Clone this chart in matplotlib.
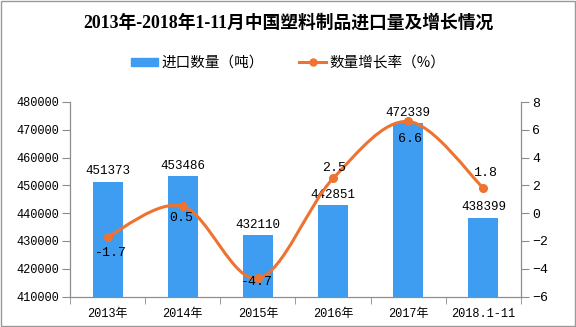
import matplotlib
matplotlib.use("Agg")
import matplotlib.pyplot as plt
from matplotlib.path import Path
from matplotlib.patches import PathPatch, Rectangle
from matplotlib.lines import Line2D
import numpy as np

# 数据
years = ["2013年", "2014年", "2015年", "2016年", "2017年", "2018.1-11"]
volume = [451373, 453486, 432110, 442851, 472339, 438399]
growth = [-1.7, 0.5, -4.7, 2.5, 6.6, 1.8]

# 增长率标签偏移 (像素, dx, dy)
growth_offsets = [(3, -16), (-2, -12), (-1, -4), (1, 10), (2, -18), (2, 15)]

BLUE = "#3E9DF0"
ORANGE = "#EE7331"
GREY = "#8C8C8C"
NUM_FONT = ["Liberation Mono", "Noto Sans CJK SC"]
CJK_FONT = ["Noto Sans CJK SC", "DejaVu Sans"]

fig = plt.figure(figsize=(5.76, 3.27), dpi=100)
ax = fig.add_axes([70 / 576, 1 - 296.5 / 327, (521 - 70) / 576, (296.5 - 102) / 327])
ax2 = ax.twinx()

x = np.arange(len(years))
ax.bar(x, volume, width=0.4, color=BLUE, zorder=2)
ax.set_ylim(410000, 480000)
ax.set_yticks(np.arange(410000, 480001, 10000))
ax.set_xlim(-0.5, len(years) - 0.5)
ax.set_xticks(x)
ax.set_xticklabels(years)
ax.set_xticks(np.arange(-0.5, len(years)), minor=True)
ax.tick_params(axis="x", which="major", length=0, pad=8)
ax.tick_params(axis="x", which="minor", length=5, color=GREY, direction="out")
ax.tick_params(axis="y", length=6, color=GREY, pad=2)

for lbl in ax.get_xticklabels() + ax.get_yticklabels():
    lbl.set_family(NUM_FONT)
    lbl.set_fontsize(8.6)

for xi, v in zip(x, volume):
    ax.annotate(str(v), (xi, v), xytext=(0, 3), textcoords="offset points",
                ha="center", va="bottom", family=NUM_FONT, fontsize=9)

# 平滑折线 (贝塞尔)
pts = np.column_stack([x, growth]).astype(float)
ext = np.vstack([pts[0], pts, pts[-1]])
verts = [tuple(pts[0])]
codes = [Path.MOVETO]
for i in range(len(pts) - 1):
    p0, p1, p2, p3 = ext[i], ext[i + 1], ext[i + 2], ext[i + 3]
    c1 = p1 + (p2 - p0) / 6
    c2 = p2 - (p3 - p1) / 6
    verts += [tuple(c1), tuple(c2), tuple(p2)]
    codes += [Path.CURVE4] * 3
ax2.add_patch(PathPatch(Path(verts, codes), facecolor="none", edgecolor=ORANGE,
                        lw=2.2, zorder=3, capstyle="round"))
ax2.plot(x, growth, "o", color=ORANGE, ms=5.5, zorder=4)

ax2.set_ylim(-6, 8)
ax2.set_yticks(np.arange(-6, 9, 2))
ax2.tick_params(axis="y", length=6, color=GREY, pad=2)
for lbl in ax2.get_yticklabels():
    lbl.set_family(NUM_FONT)
    lbl.set_fontsize(9.5)

for xi, g, (dx, dy) in zip(x, growth, growth_offsets):
    ax2.annotate(f"{g}", (xi, g), xytext=(dx * 0.72, dy * 0.72),
                 textcoords="offset points", ha="center", va="center",
                 family=NUM_FONT, fontsize=9.5, zorder=5)

for a in (ax, ax2):
    a.spines["top"].set_visible(False)
    for s in ("left", "right", "bottom"):
        a.spines[s].set_color(GREY)

# 标题和图例
fig.text(0.5, 1 - 23 / 327, "2013年-2018年1-11月中国塑料制品进口量及增长情况",
         ha="center", va="center", fontsize=12.8, fontweight="bold",
         family=["Liberation Serif", "Noto Sans CJK SC"])

handles = [
    Rectangle((0, 0), 1, 1, color=BLUE),
    Line2D([0], [0], color=ORANGE, lw=2.2, marker="o", ms=5),
]
fig.legend(handles, ["进口数量（吨）", "数量增长率（%）"], loc="center",
           bbox_to_anchor=(288 / 576, 1 - 63 / 327), ncol=2, frameon=False,
           prop={"family": CJK_FONT, "size": 10.5}, handlelength=1.9,
           handleheight=0.5, handletextpad=0.2, columnspacing=2.4)

fig.add_artist(Rectangle((0.001, 0.002), 0.997, 0.995, transform=fig.transFigure,
                         fill=False, edgecolor="#999999", lw=1))

fig.savefig("out.png", dpi=100)
